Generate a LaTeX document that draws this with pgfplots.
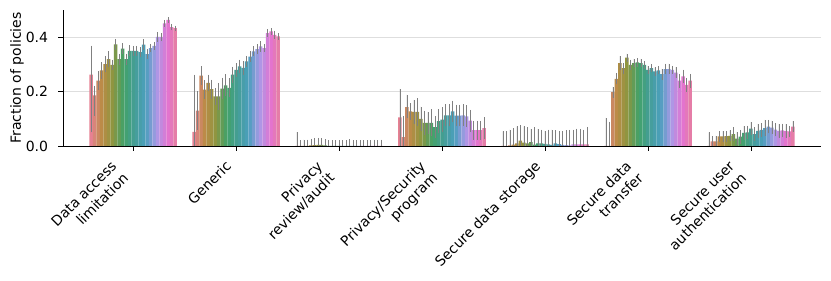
\documentclass[border=0pt]{standalone}
\usepackage{fontspec}
\setmainfont{DejaVu Sans}
\usepackage{graphicx}
\usepackage{pgfplots}
\usepackage{pgfplotstable}
\pgfplotsset{compat=1.18}

\definecolor{A0}{rgb}{0.902,0.507,0.578}
\definecolor{A1}{rgb}{0.732,0.548,0.272}
\definecolor{A2}{rgb}{0.549,0.586,0.250}
\definecolor{A3}{rgb}{0.260,0.634,0.412}
\definecolor{A4}{rgb}{0.268,0.619,0.593}
\definecolor{A5}{rgb}{0.297,0.623,0.743}
\definecolor{A6}{rgb}{0.670,0.601,0.907}
\definecolor{A7}{rgb}{0.888,0.453,0.819}
\colorlet{h0}{A0}
\colorlet{h1}{A0!68!A1}
\colorlet{h2}{A0!36!A1}
\colorlet{h3}{A0!4!A1}
\colorlet{h4}{A1!72!A2}
\colorlet{h5}{A1!40!A2}
\colorlet{h6}{A1!8!A2}
\colorlet{h7}{A2!76!A3}
\colorlet{h8}{A2!44!A3}
\colorlet{h9}{A2!12!A3}
\colorlet{h10}{A3!80!A4}
\colorlet{h11}{A3!48!A4}
\colorlet{h12}{A3!16!A4}
\colorlet{h13}{A4!84!A5}
\colorlet{h14}{A4!52!A5}
\colorlet{h15}{A4!20!A5}
\colorlet{h16}{A5!88!A6}
\colorlet{h17}{A5!56!A6}
\colorlet{h18}{A5!24!A6}
\colorlet{h19}{A6!92!A7}
\colorlet{h20}{A6!60!A7}
\colorlet{h21}{A6!28!A7}
\colorlet{h22}{A7!96!A0}
\colorlet{h23}{A7!64!A0}
\colorlet{h24}{A7!32!A0}

\newcommand{\xl}[1]{\rotatebox{45}{\begin{tabular}{@{}r@{}}#1\end{tabular}}}

% c = category, k = hue index, v = value, ep/em = error plus/minus
\pgfplotstableread{
c k v ep em
0 0 0.262 0.107 0.212
0 1 0.186 0.036 0.075
0 2 0.240 0.035 0.035
0 3 0.278 0.030 0.030
0 4 0.301 0.030 0.030
0 5 0.319 0.030 0.030
0 6 0.298 0.020 0.020
0 7 0.374 0.020 0.020
0 8 0.319 0.020 0.020
0 9 0.358 0.020 0.020
0 10 0.319 0.020 0.020
0 11 0.350 0.020 0.020
0 12 0.350 0.018 0.018
0 13 0.350 0.018 0.018
0 14 0.345 0.018 0.018
0 15 0.373 0.020 0.020
0 16 0.338 0.018 0.018
0 17 0.360 0.015 0.015
0 18 0.368 0.015 0.015
0 19 0.401 0.018 0.018
0 20 0.401 0.015 0.015
0 21 0.451 0.012 0.012
0 22 0.464 0.010 0.010
0 23 0.437 0.012 0.012
0 24 0.433 0.010 0.010
1 0 0.052 0.210 0.052
1 1 0.130 0.073 0.070
1 2 0.259 0.034 0.034
1 3 0.207 0.035 0.035
1 4 0.232 0.030 0.030
1 5 0.209 0.035 0.035
1 6 0.182 0.030 0.030
1 7 0.182 0.050 0.050
1 8 0.211 0.040 0.040
1 9 0.223 0.040 0.040
1 10 0.214 0.035 0.035
1 11 0.262 0.030 0.030
1 12 0.280 0.025 0.025
1 13 0.293 0.025 0.025
1 14 0.287 0.025 0.025
1 15 0.311 0.020 0.020
1 16 0.329 0.020 0.020
1 17 0.348 0.018 0.018
1 18 0.356 0.018 0.018
1 19 0.366 0.020 0.020
1 20 0.360 0.015 0.015
1 21 0.415 0.015 0.015
1 22 0.421 0.012 0.012
1 23 0.409 0.015 0.015
1 24 0.403 0.012 0.012
2 0 0.000 0.051 0.000
2 1 0.000 0.021 0.000
2 2 0.000 0.023 0.000
2 3 0.000 0.023 0.000
2 4 0.002 0.024 0.002
2 5 0.003 0.027 0.003
2 6 0.004 0.026 0.004
2 7 0.004 0.025 0.004
2 8 0.002 0.022 0.002
2 9 0.000 0.022 0.000
2 10 0.000 0.022 0.000
2 11 0.000 0.022 0.000
2 12 0.000 0.022 0.000
2 13 0.000 0.022 0.000
2 14 0.000 0.022 0.000
2 15 0.000 0.024 0.000
2 16 0.000 0.022 0.000
2 17 0.000 0.022 0.000
2 18 0.000 0.022 0.000
2 19 0.000 0.022 0.000
2 20 0.000 0.022 0.000
2 21 0.000 0.022 0.000
2 22 0.000 0.023 0.000
2 23 0.000 0.022 0.000
2 24 0.000 0.023 0.000
3 0 0.105 0.105 0.105
3 1 0.033 0.078 0.033
3 2 0.143 0.046 0.040
3 3 0.127 0.030 0.030
3 4 0.125 0.045 0.045
3 5 0.125 0.050 0.050
3 6 0.100 0.045 0.045
3 7 0.085 0.045 0.045
3 8 0.085 0.040 0.040
3 9 0.085 0.050 0.050
3 10 0.069 0.040 0.040
3 11 0.091 0.045 0.045
3 12 0.097 0.045 0.045
3 13 0.113 0.040 0.040
3 14 0.113 0.040 0.040
3 15 0.127 0.040 0.040
3 16 0.112 0.040 0.040
3 17 0.112 0.040 0.040
3 18 0.113 0.040 0.040
3 19 0.109 0.040 0.040
3 20 0.093 0.040 0.040
3 21 0.058 0.035 0.035
3 22 0.058 0.035 0.035
3 23 0.058 0.035 0.035
3 24 0.066 0.040 0.040
4 0 0.000 0.054 0.000
4 1 0.000 0.054 0.000
4 2 0.002 0.058 0.002
4 3 0.005 0.061 0.005
4 4 0.010 0.062 0.010
4 5 0.020 0.056 0.020
4 6 0.012 0.060 0.012
4 7 0.010 0.059 0.010
4 8 0.014 0.049 0.014
4 9 0.005 0.064 0.005
4 10 0.010 0.053 0.010
4 11 0.010 0.050 0.010
4 12 0.008 0.048 0.008
4 13 0.006 0.054 0.006
4 14 0.004 0.056 0.004
4 15 0.010 0.048 0.010
4 16 0.007 0.049 0.007
4 17 0.004 0.050 0.004
4 18 0.003 0.055 0.003
4 19 0.002 0.057 0.002
4 20 0.006 0.054 0.006
4 21 0.006 0.058 0.006
4 22 0.006 0.057 0.006
4 23 0.006 0.054 0.006
4 24 0.006 0.064 0.006
5 0 0.000 0.103 0.000
5 1 0.000 0.090 0.000
5 2 0.198 0.020 0.020
5 3 0.247 0.020 0.020
5 4 0.305 0.025 0.025
5 5 0.286 0.020 0.020
5 6 0.325 0.015 0.015
5 7 0.298 0.020 0.020
5 8 0.305 0.015 0.015
5 9 0.307 0.015 0.015
5 10 0.305 0.015 0.015
5 11 0.298 0.015 0.015
5 12 0.280 0.015 0.015
5 13 0.286 0.015 0.015
5 14 0.274 0.015 0.015
5 15 0.278 0.015 0.015
5 16 0.264 0.020 0.020
5 17 0.283 0.020 0.020
5 18 0.283 0.020 0.020
5 19 0.280 0.015 0.015
5 20 0.270 0.020 0.020
5 21 0.240 0.025 0.025
5 22 0.256 0.025 0.025
5 23 0.225 0.025 0.025
5 24 0.240 0.025 0.025
6 0 0.000 0.050 0.000
6 1 0.017 0.018 0.017
6 2 0.017 0.020 0.017
6 3 0.035 0.020 0.020
6 4 0.035 0.020 0.020
6 5 0.036 0.020 0.020
6 6 0.037 0.020 0.020
6 7 0.044 0.025 0.025
6 8 0.027 0.025 0.025
6 9 0.034 0.025 0.025
6 10 0.048 0.025 0.025
6 11 0.050 0.025 0.025
6 12 0.064 0.025 0.025
6 13 0.044 0.025 0.025
6 14 0.056 0.025 0.025
6 15 0.059 0.025 0.025
6 16 0.066 0.030 0.030
6 17 0.071 0.025 0.025
6 18 0.068 0.025 0.025
6 19 0.060 0.025 0.025
6 20 0.056 0.025 0.025
6 21 0.057 0.025 0.025
6 22 0.055 0.025 0.025
6 23 0.054 0.020 0.020
6 24 0.071 0.020 0.020
}\data

\begin{document}
\fontsize{10.5pt}{12.6pt}\selectfont
\begin{tikzpicture}
\begin{axis}[
  name=ax,
  scale only axis,
  width=568.5pt, height=102pt,
  xmin=-0.68, xmax=6.68, ymin=0, ymax=0.5,
  axis lines=left,
  axis line style={-, line width=0.6pt},
  tick align=outside,
  major tick length=3.5pt,
  tick style={black, line width=0.6pt},
  xtick={0,1,2,3,4,5,6},
  xticklabels={
    {\xl{Data access\\limitation}},
    {\xl{Generic}},
    {\xl{Privacy\\review/audit}},
    {\xl{Privacy/Security\\program}},
    {\xl{Secure data storage}},
    {\xl{Secure data\\transfer}},
    {\xl{Secure user\\authentication}}},
  xticklabel style={anchor=north east, inner sep=0pt, yshift=-6pt, font=\fontsize{10.5pt}{12.6pt}\selectfont},
  ytick={0,0.2,0.4},
  yticklabel style={anchor=east, inner sep=0pt, xshift=-7.5pt, font=\fontsize{10.5pt}{12.6pt}\selectfont,
    /pgf/number format/.cd, fixed, fixed zerofill, precision=1, assume math mode=true},
  ymajorgrids,
  major grid style={black!13, line width=0.6pt},
  ylabel={Fraction of policies},
  every axis y label/.style={at={(axis description cs:0,0.5)}, xshift=-34.5pt, rotate=90, anchor=center, font=\fontsize{10.5pt}{12.6pt}\selectfont},
  clip=true,
]
\pgfplotsinvokeforeach{0,...,24}{
  \addplot[ybar, bar width=0.034, bar shift=0pt, fill=h#1, draw=none,
    restrict expr to domain={\thisrow{k}}{#1:#1},
    error bars/.cd, y dir=both, y explicit, error mark=none,
    error bar style={line width=0.5pt, color=black!50}]
    table[x expr=\thisrow{c}+(#1-12)*0.034, y=v, y error plus=ep, y error minus=em] {\data};
}
\end{axis}
\pgfresetboundingbox
\path (ax.south west) ++(-47.25pt,-101pt) rectangle ([shift={(7.5pt,7.5pt)}]ax.north east);
\end{tikzpicture}
\end{document}
